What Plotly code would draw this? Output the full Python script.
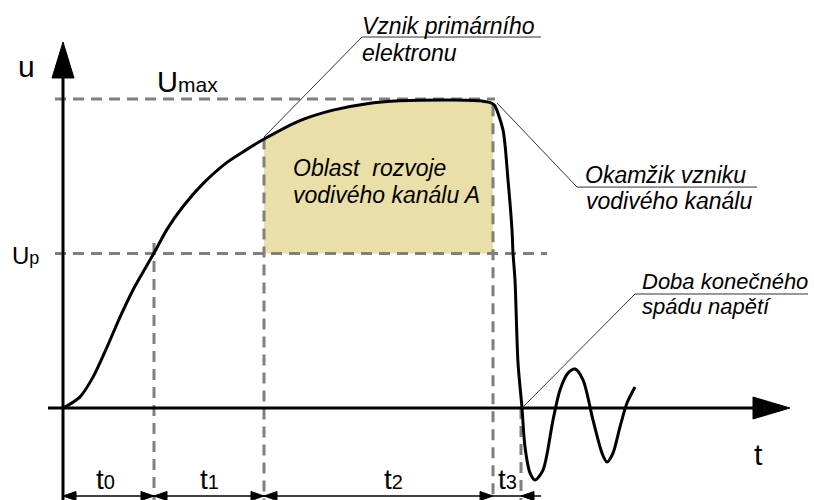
import numpy as np
import plotly.graph_objects as go

# Průběh napětí (t v libovolných jednotkách, u poměrně k Umax)
t_curve = [0.0, 0.2, 1.7, 3.0, 4.4, 5.7, 7.0, 8.4, 9.2, 10.4, 12.0, 14.0,
           16.4, 18.4, 20.2, 23.7, 27.0, 30.4, 33.7, 38.7, 41.7, 43.0, 43.2,
           44.0, 44.5, 44.9, 45.0, 45.2, 45.5, 45.9, 46.2, 46.7, 47.2, 48.0,
           49.0, 49.7, 50.5, 51.2, 52.0, 53.0, 53.9, 54.4, 55.0, 55.7, 56.4,
           57.2]
u_curve = [0.0, 0.003, 0.036, 0.100, 0.197, 0.294, 0.382, 0.462, 0.507, 0.578,
           0.652, 0.726, 0.795, 0.837, 0.872, 0.930, 0.964, 0.985, 0.994, 0.997,
           0.994, 0.984, 0.977, 0.900, 0.738, 0.576, 0.502, 0.414, 0.146, 0.0,
           -0.126, -0.210, -0.233, -0.201, -0.039, 0.058, 0.113, 0.126, 0.091,
           -0.039, -0.146, -0.175, -0.146, -0.061, 0.016, 0.068]

U_MAX = 1.0
U_P = 0.5
t_bounds = [0.0, 9.1, 20.1, 43.0, 45.8]
t_names = ["t<span style='font-size:20px'>0</span>",
           "t<span style='font-size:20px'>1</span>",
           "t<span style='font-size:20px'>2</span>",
           "t<span style='font-size:20px'>3</span>"]

GRAY = "#7f7f7f"
FILL = "#eadfa8"
FONT = "Liberation Sans, Arial, sans-serif"

X_RANGE = [-6.3, 75.1]
Y_RANGE = [-0.2977, 1.3204]
y_bot = Y_RANGE[0] - 0.01

fig = go.Figure()


def line(xs, ys, color="black", width=3, dash=None):
    fig.add_trace(go.Scatter(x=xs, y=ys, mode="lines", hoverinfo="skip",
                             line=dict(color=color, width=width, dash=dash)))


def triangle(xs, ys):
    fig.add_trace(go.Scatter(x=xs + [xs[0]], y=ys + [ys[0]], mode="lines",
                             fill="toself", fillcolor="black",
                             line=dict(color="black", width=1), hoverinfo="skip"))


# Oblast rozvoje vodivého kanálu (vyplnění mezi Up a křivkou)
sel = [i for i, t in enumerate(t_curve) if t_bounds[2] <= t <= t_bounds[3]]
tx = [t_bounds[2]] + [t_curve[i] for i in sel]
ux = [0.870] + [u_curve[i] for i in sel]
fig.add_trace(go.Scatter(x=[tx[0], tx[-1]], y=[U_P, U_P], mode="lines",
                         line=dict(width=0), hoverinfo="skip"))
fig.add_trace(go.Scatter(x=tx, y=ux, mode="lines", fill="tonexty",
                         fillcolor=FILL, line=dict(width=0, shape="spline"),
                         hoverinfo="skip"))

# Čárkované pomocné čáry
dash = "11px,7px"
line([-0.8, 43.2], [U_MAX, U_MAX], GRAY, 3, dash)
line([-0.8, 48.4], [U_P, U_P], GRAY, 3, dash)
v_tops = [0.534, 0.872, 0.98, 0.0]
for tb, top in zip(t_bounds[1:], v_tops):
    line([tb, tb], [top, y_bot], GRAY, 3, dash)

# Osy
line([0, 0], [y_bot, 1.07])
line([-1.5, 69.5], [0, 0])
triangle([0, -1.1, 1.1], [1.1845, 1.068, 1.068])
triangle([72.7, 69.0, 69.0], [0, 0.0356, -0.0356])

# Křivka napětí
fig.add_trace(go.Scatter(x=t_curve, y=u_curve, mode="lines", hoverinfo="skip",
                         line=dict(color="black", width=3, shape="spline",
                                   smoothing=0.8)))

# Odkazové čáry k popiskům
line([20.1, 29.9, 47.8], [0.877, 1.2006, 1.2006], "#333333", 1)
line([43.4, 51.4, 69.4], [0.987, 0.715, 0.715], "#333333", 1)
line([45.9, 57.2, 74.5], [0.0, 0.369, 0.369], "#333333", 1)

# Kótovací čára dole
y_dim = -0.2848
al, ah = 1.3, 0.0146
line([0, 47.8], [y_dim, y_dim], "black", 1.5)
for i, tb in enumerate(t_bounds):
    if i in (0, 1, 2, 4):   # šipka doleva (hrot na hranici)
        triangle([tb, tb + al, tb + al], [y_dim, y_dim + ah, y_dim - ah])
    if i in (1, 2, 3):      # šipka doprava
        triangle([tb, tb - al, tb - al], [y_dim, y_dim + ah, y_dim - ah])


# Popisky
def label(text, x, y, size=23, xanchor="left", italic=False):
    if italic:
        text = "<i>" + text + "</i>"
    fig.add_annotation(x=x, y=y, text=text, showarrow=False, xref="x", yref="y",
                       xanchor=xanchor, yanchor="middle", borderpad=0,
                       font=dict(family=FONT, size=size, color="black"))


label("u", -3.7, 1.1068, 30, "center")
label("U<span style='font-size:21px'>max</span>", 9.3, 1.055, 29)
label("U<span style='font-size:18px'>p</span>", -5.2, 0.494, 24)
label("t", 69.5, -0.149, 30, "center")
t_mid = [4.2, 14.6, 33.0, 44.4]
for name, xm in zip(t_names, t_mid):
    label(name, xm, -0.2298, 28, "center")

label("Vznik primárního", 29.8, 1.2349, italic=True)
label("elektronu", 29.8, 1.1476, italic=True)
label("Okamžik vzniku", 52.1, 0.7528, italic=True)
label("vodivého kanálu", 52.2, 0.6686, italic=True)
label("Doba konečného", 57.8, 0.4097, 22, italic=True)
label("spádu napětí", 57.8, 0.3288, 22, italic=True)
label("Oblast\u00a0 rozvoje", 22.9, 0.7754, italic=True)
label("vodivého kanálu A", 22.9, 0.688, italic=True)

fig.update_layout(
    width=814, height=500,
    margin=dict(l=0, r=0, t=0, b=0),
    paper_bgcolor="white", plot_bgcolor="white",
    showlegend=False,
    xaxis=dict(range=X_RANGE, visible=False, fixedrange=True),
    yaxis=dict(range=Y_RANGE, visible=False, fixedrange=True),
)

# okraj stránky pryč, aby obrázek začínal v rohu okna
fig.write_html("out.html", config={"displayModeBar": False},
               post_script="document.body.style.margin='0px';")
